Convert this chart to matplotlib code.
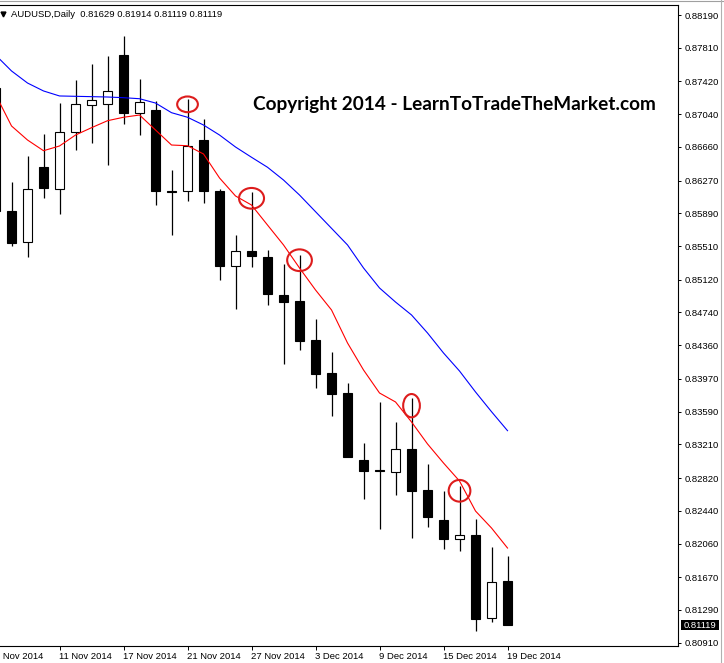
import matplotlib
matplotlib.use("Agg")
import matplotlib.pyplot as plt
from matplotlib.patches import Ellipse, Rectangle

plt.rcParams["font.family"] = ["Liberation Sans", "DejaVu Sans"]

W, H = 724, 663

# daily AUDUSD bars, 5 Nov 2014 .. 19 Dec 2014 (index 0 .. 32)
opens = [0.87343, 0.85917, 0.85561, 0.86431, 0.86169, 0.86830, 0.87143, 0.87154, 0.87726, 0.87057,
         0.87088, 0.86145, 0.86152, 0.86740, 0.86149, 0.85282, 0.85453, 0.85383, 0.84943, 0.84873,
         0.84421, 0.84038, 0.83806, 0.83029, 0.82910, 0.82893, 0.83153, 0.82681, 0.82333, 0.82113,
         0.82156, 0.81193, 0.81629]
highs = [0.87367, 0.86250, 0.86558, 0.86810, 0.87166, 0.87436, 0.87622, 0.87715, 0.87950, 0.87448,
         0.87193, 0.86392, 0.87216, 0.86984, 0.86176, 0.85638, 0.86134, 0.85465, 0.85302, 0.85407,
         0.84664, 0.84282, 0.83922, 0.83223, 0.83705, 0.83466, 0.83745, 0.82983, 0.82669, 0.82727,
         0.82345, 0.82024, 0.81914]
lows = [0.85882, 0.85514, 0.85387, 0.86071, 0.85882, 0.86624, 0.86702, 0.86450, 0.86926, 0.86798,
        0.85986, 0.85642, 0.86027, 0.86006, 0.85117, 0.84777, 0.85271, 0.84827, 0.84142, 0.84305,
        0.83868, 0.83539, 0.83064, 0.82577, 0.82225, 0.82623, 0.82128, 0.82255, 0.81993, 0.81977,
        0.81049, 0.81147, 0.81119]
closes = [0.85917, 0.85549, 0.86172, 0.86187, 0.86830, 0.87154, 0.87204, 0.87309, 0.87057, 0.87178,
          0.86149, 0.86141, 0.86671, 0.86152, 0.85282, 0.85453, 0.85398, 0.84958, 0.84865, 0.84413,
          0.84030, 0.83798, 0.83067, 0.82905, 0.82905, 0.83153, 0.82673, 0.82371, 0.82109, 0.82156,
          0.81181, 0.81617, 0.81119]

ma_fast = [0.87269, 0.86903, 0.86740, 0.86616, 0.86671, 0.86798, 0.86883, 0.86964, 0.87004, 0.87030,
           0.86856, 0.86682, 0.86674, 0.86578, 0.86300, 0.86091, 0.85986, 0.85754, 0.85523, 0.85256,
           0.85001, 0.84769, 0.84386, 0.84073, 0.83806, 0.83702, 0.83470, 0.83215, 0.82994, 0.82785,
           0.82437, 0.82240, 0.82008]
ma_slow = [0.87726, 0.87541, 0.87401, 0.87309, 0.87251, 0.87247, 0.87243, 0.87239, 0.87231, 0.87219,
           0.87169, 0.87057, 0.87004, 0.86914, 0.86798, 0.86659, 0.86540, 0.86424, 0.86276, 0.86102,
           0.85909, 0.85716, 0.85523, 0.85256, 0.85024, 0.84861, 0.84711, 0.84502, 0.84270, 0.84061,
           0.83818, 0.83589, 0.83369]

date_bars = [0, 4, 8, 12, 16, 20, 24, 28, 32]
date_labels = ["5 Nov 2014", "11 Nov 2014", "17 Nov 2014", "21 Nov 2014", "27 Nov 2014",
               "3 Dec 2014", "9 Dec 2014", "15 Dec 2014", "19 Dec 2014"]

price_ticks = [0.88190, 0.87810, 0.87420, 0.87040, 0.86660, 0.86270, 0.85890, 0.85510, 0.85120, 0.84740,
               0.84360, 0.83970, 0.83590, 0.83210, 0.82820, 0.82440, 0.82060, 0.81670, 0.81290, 0.80910]

# red rings drawn around the rejected highs
ring_bars = [12, 16, 19, 26, 29]
ring_prices = [0.87154, 0.86064, 0.85346, 0.83659, 0.82672]
ring_w_px = [20.7, 25.0, 24.7, 16.7, 21.7]
ring_h_px = [15.7, 20.7, 21.7, 23.3, 21.7]

header = "AUDUSD,Daily  0.81629 0.81914 0.81119 0.81119"
copyright_text = "Copyright 2014 - LearnToTradeTheMarket.com"
last_price = "0.81119"

# plot frame in pixels
PX_L, PX_R, PX_T, PX_B = 0, 678, 5, 646
BAR_PX = 16
Y_TOP, Y_BOT = 0.883060, 0.808717
X0 = 0.28

fig = plt.figure(figsize=(W / 100, H / 100), dpi=100)
fig.patch.set_facecolor("white")
ax = fig.add_axes([PX_L / W, (H - PX_B) / H, (PX_R - PX_L) / W, (PX_B - PX_T) / H])

x = list(range(len(opens)))
ax.vlines(x, lows, highs, color="black", lw=0.9, zorder=2)
for i in x:
    o, c = opens[i], closes[i]
    fill = "black" if c < o else "white"
    ax.bar(i, max(abs(c - o), 1e-6), bottom=min(o, c), width=0.6,
           facecolor=fill, edgecolor="black", linewidth=0.8, zorder=3)

ax.plot(x, ma_fast, color="#ff0000", lw=0.8, zorder=4)
ax.plot(x, ma_slow, color="#0000ff", lw=0.8, zorder=4)

px_to_price = (Y_TOP - Y_BOT) / (PX_B - PX_T)
for b, p, w, h in zip(ring_bars, ring_prices, ring_w_px, ring_h_px):
    ax.add_patch(Ellipse((b, p), w / BAR_PX, h * px_to_price, fill=False,
                         edgecolor="#dd1c1c", lw=1.5, zorder=5))

for side in ["top", "right", "bottom"]:
    ax.spines[side].set_linewidth(0.8)
    ax.spines[side].set_color("black")
ax.spines["left"].set_visible(False)

ax.yaxis.tick_right()
ax.set_yticks(price_ticks, [f"{v:.5f}" for v in price_ticks])
ax.tick_params(axis="y", direction="out", length=2.5, width=0.7, pad=2.5, labelsize=6.8)
ax.set_xticks(date_bars)
ax.set_xticklabels([])
ax.tick_params(axis="x", direction="out", length=3, width=0.7)
ax.tick_params(axis="y", which="both", left=False)

# limits last: set_xticks would widen the view to show the first tick
ax.set_xlim(X0, X0 + (PX_R - PX_L) / BAR_PX)
ax.set_ylim(Y_BOT, Y_TOP)

for b, lab in zip(date_bars, date_labels):
    ax.text(b - 1 / BAR_PX, -(659.3 - PX_B) / (PX_B - PX_T), lab,
            transform=ax.get_xaxis_transform(), ha="left", va="baseline",
            fontsize=6.8, clip_on=False)

# header, watermark, last price tag
fig.text(11 / W, 1 - 16.8 / H, header, fontsize=6.8, va="baseline", ha="left")
fig.lines.append(plt.Line2D([3 / W], [1 - 14 / H], marker="v", markersize=3.5,
                            color="black", transform=fig.transFigure))
fig.text(252.7 / W, 1 - 110 / H, copyright_text, family="Lato", fontweight="bold",
         fontsize=13.65, va="baseline", ha="left")

fig.patches.append(Rectangle((680.5 / W, 1 - 629.5 / H), 38 / W, 9.5 / H,
                             facecolor="black", edgecolor="none", transform=fig.transFigure))
fig.text(684 / W, 1 - 627.5 / H, last_price, color="white", fontsize=6.8, va="baseline")

# window borders
fig.lines.append(plt.Line2D([0, 1], [1 - 0.5 / H, 1 - 0.5 / H], color="#a0a0a0", lw=0.8,
                            transform=fig.transFigure))
fig.lines.append(plt.Line2D([720.5 / W, 720.5 / W], [0, 1], color="#b0b0b0", lw=0.8,
                            transform=fig.transFigure))

fig.savefig("out.png", dpi=100)
